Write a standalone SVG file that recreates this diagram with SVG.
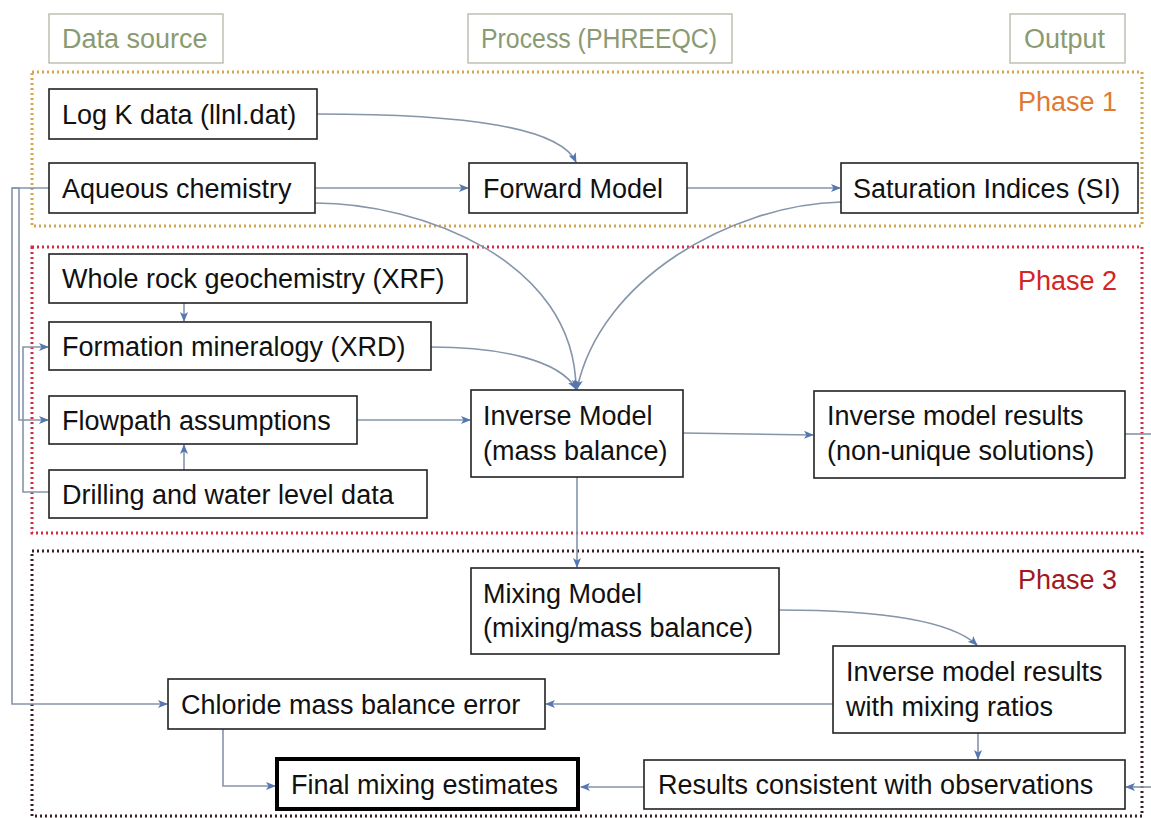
<svg xmlns="http://www.w3.org/2000/svg" width="1151" height="818" viewBox="0 0 1151 818">
<defs>
<marker id="arr" markerUnits="userSpaceOnUse" markerWidth="10" markerHeight="10" viewBox="0 0 10 10" refX="9" refY="5" orient="auto">
<path d="M0,1 L10,5 L0,9 L2.5,5 Z" fill="#5477b0"/>
</marker>
</defs>
<style>
text{font-family:"Liberation Sans",Arial,sans-serif;font-size:27px;fill:#111}
.node rect{fill:#fff;stroke:#222;stroke-width:1.6}
.hdr rect{fill:#fff;stroke:#b9bbb0;stroke-width:1.4}
.hdr text{fill:#8a9a72}
.conn path{fill:none;stroke:#8595aa;stroke-width:1.6}
.arrow{marker-end:url(#arr)}
.phase{fill:none;stroke-width:3;stroke-dasharray:2 3}
</style>
<rect width="1151" height="818" fill="#fff"/>

<g id="phase1"><rect class="phase" x="32" y="72" width="1110" height="154" stroke="#d4a54e"/><text x="1117" y="111" text-anchor="end" style="fill:#e07a32">Phase 1</text></g>
<g id="phase2"><rect class="phase" x="32" y="247" width="1110" height="286" stroke="#d42a44"/><text x="1117" y="290" text-anchor="end" style="fill:#d42424">Phase 2</text></g>
<g id="phase3"><rect class="phase" x="32" y="551" width="1110" height="265" stroke="#3a1e22"/><text x="1117" y="589" text-anchor="end" style="fill:#a01822">Phase 3</text></g>

<g id="hdr-data" class="hdr"><rect x="49" y="14" width="174" height="49"/><text x="62" y="48">Data source</text></g>
<g id="hdr-process" class="hdr"><rect x="468" y="14" width="264" height="49"/><text x="481" y="48" textLength="236" lengthAdjust="spacingAndGlyphs">Process (PHREEQC)</text></g>
<g id="hdr-output" class="hdr"><rect x="1010" y="14" width="115" height="49"/><text x="1024" y="48">Output</text></g>

<g class="conn" id="connectors">
<path class="arrow" d="M317,114 C470,114 560,128 576,162"/>
<path class="arrow" d="M315,188 L468,188"/>
<path class="arrow" d="M687,188 L840,188"/>
<path class="arrow" d="M315,203 C420,203 575,260 576,389"/>
<path class="arrow" d="M841,202 C730,205 600,280 577,389"/>
<path class="arrow" d="M431,347 C500,347 560,360 576,389"/>
<path class="arrow" d="M184,303 L184,321"/>
<path class="arrow" d="M184,470 L184,445"/>
<path class="arrow" d="M357,420 L470,420"/>
<path class="arrow" d="M683,433 L813,435"/>
<path d="M1125,434 L1151,434"/>
<path class="arrow" d="M577,477 L577,567"/>
<path class="arrow" d="M779,610 C880,610 950,620 977,645"/>
<path class="arrow" d="M833,704 L546,704"/>
<path class="arrow" d="M978,733 L978,759"/>
<path class="arrow" d="M644,787 L581,787"/>
<path class="arrow" d="M1151,787 L1126,787"/>
<path class="arrow" d="M223,729 L223,786 L275,786"/>
<path class="arrow" d="M49,188 L12,188 L12,704 L167,704"/>
<path class="arrow" d="M12,188 L19,188 L19,420 L48,420"/>
<path class="arrow" d="M49,492 L23,492 L23,347 L48,347"/>
</g>

<g id="n-logk" class="node"><rect x="49" y="89" width="268" height="50"/><text x="62" y="124">Log K data (llnl.dat)</text></g>
<g id="n-aqueous" class="node"><rect x="49" y="163" width="266" height="50"/><text x="62" y="198">Aqueous chemistry</text></g>
<g id="n-forward" class="node"><rect x="469" y="163" width="218" height="50"/><text x="483" y="198">Forward Model</text></g>
<g id="n-si" class="node"><rect x="841" y="163" width="297" height="50"/><text x="853" y="198">Saturation Indices (SI)</text></g>
<g id="n-xrf" class="node"><rect x="49" y="254" width="418" height="49"/><text x="62" y="288">Whole rock geochemistry (XRF)</text></g>
<g id="n-xrd" class="node"><rect x="49" y="322" width="382" height="48"/><text x="62" y="356">Formation mineralogy (XRD)</text></g>
<g id="n-flow" class="node"><rect x="49" y="396" width="308" height="48"/><text x="62" y="430">Flowpath assumptions</text></g>
<g id="n-drill" class="node"><rect x="49" y="470" width="378" height="48"/><text x="62" y="504">Drilling and water level data</text></g>
<g id="n-inverse" class="node"><rect x="471" y="390" width="212" height="87"/><text x="483" y="425">Inverse Model</text><text x="483" y="460">(mass balance)</text></g>
<g id="n-invres" class="node"><rect x="814" y="391" width="311" height="87"/><text x="827" y="425">Inverse model results</text><text x="827" y="460">(non-unique solutions)</text></g>
<g id="n-mixing" class="node"><rect x="471" y="568" width="308" height="86"/><text x="483" y="603">Mixing Model</text><text x="483" y="637">(mixing/mass balance)</text></g>
<g id="n-invmix" class="node"><rect x="833" y="646" width="292" height="87"/><text x="846" y="681">Inverse model results</text><text x="846" y="716">with mixing ratios</text></g>
<g id="n-chloride" class="node"><rect x="168" y="679" width="377" height="50"/><text x="181" y="714">Chloride mass balance error</text></g>
<g id="n-results" class="node"><rect x="644" y="760" width="481" height="49"/><text x="658" y="794">Results consistent with observations</text></g>
<g id="n-final" class="node"><rect x="277" y="759" width="301" height="50" style="stroke:#000;stroke-width:4"/><text x="291" y="794">Final mixing estimates</text></g>
</svg>
